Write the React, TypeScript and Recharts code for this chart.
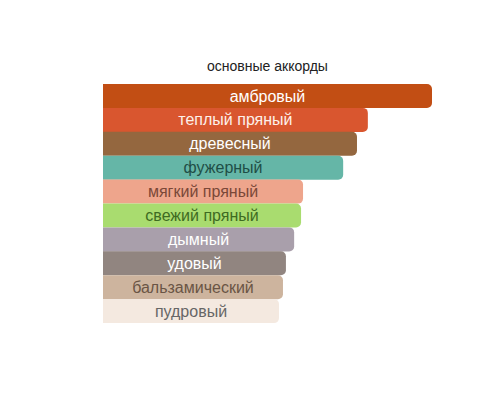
import { Bar, BarChart, Cell, LabelList, XAxis, YAxis } from 'recharts';

const accords = [
  'амбровый',
  'теплый пряный',
  'древесный',
  'фужерный',
  'мягкий пряный',
  'свежий пряный',
  'дымный',
  'удовый',
  'бальзамический',
  'пудровый',
];
const strength = [100, 80.5, 77.2, 73.0, 60.8, 60.2, 58.1, 55.6, 54.7, 53.5];
const barColors = [
  '#c24e14', '#d9562f', '#94673f', '#65b6a7', '#eea58c',
  '#a9dc6f', '#a99fab', '#918580', '#cdb49e', '#f4e9e0',
];
const textColors = [
  '#ffffff', '#fdf0ea', '#ffffff', '#1f4e46', '#7a4838',
  '#3e6b22', '#ffffff', '#ffffff', '#6a5545', '#666666',
];

const data = accords.map((name, i) => ({ name, value: strength[i] }));

function CenterLabel(props: any) {
  const { x, y, width, height, index, value } = props;
  return (
    <text
      x={x + width / 2}
      y={y + height / 2}
      textAnchor="middle"
      dominantBaseline="central"
      fill={textColors[index]}
      fontSize={16}
      fontFamily="'Liberation Sans', Arial, sans-serif"
    >
      {value}
    </text>
  );
}

export default function App() {
  return (
    <div style={{ position: 'relative', width: 500, height: 400 }}>
      <div
        style={{
          position: 'absolute',
          top: 50,
          left: 0,
          width: 519,
          textAlign: 'center',
          fontFamily: "'Liberation Sans', Arial, sans-serif",
          fontSize: 14,
          color: '#222',
        }}
      >
        основные аккорды
      </div>
      <BarChart
        width={500}
        height={400}
        data={data}
        layout="vertical"
        margin={{ top: 76, right: 76, bottom: 85, left: 95 }}
        barCategoryGap={0}
      >
        <XAxis type="number" domain={[0, 100]} hide />
        <YAxis type="category" dataKey="name" hide />
        <Bar dataKey="value" radius={[0, 5, 5, 0]} isAnimationActive={false}>
          {data.map((d, i) => (
            <Cell key={d.name} fill={barColors[i]} />
          ))}
          <LabelList dataKey="name" content={CenterLabel} />
        </Bar>
      </BarChart>
    </div>
  );
}
